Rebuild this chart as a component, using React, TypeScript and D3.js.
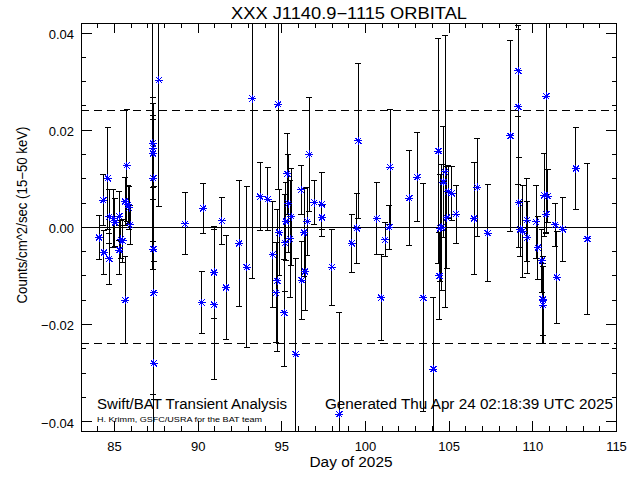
import React from 'react';
import * as d3 from 'd3';

const days = [
  84.08, 84.33, 84.37, 84.61, 84.69, 84.70, 84.93, 85.03, 85.29, 85.30, 85.37, 85.49, 85.63, 85.73, 85.64, 85.83, 85.87, 85.93,
  87.29, 87.30, 87.31, 87.32, 87.33, 87.34, 87.35, 87.66,
  89.22, 90.21, 90.31, 90.95, 90.96, 91.41, 91.67, 92.46, 92.90, 93.24, 93.70, 94.16, 94.46,
  94.66, 94.73, 94.79, 94.85, 95.15, 95.19, 95.25, 95.33, 95.39, 95.49, 95.57, 95.83,
  96.15, 96.19, 96.33, 96.39, 96.53, 96.65, 96.95, 97.39, 97.40, 97.99, 98.44,
  99.18, 99.48, 99.58, 100.67, 100.93, 101.17, 101.43, 101.47, 102.62, 103.10, 103.46, 104.06,
  104.36, 104.42, 104.46, 104.56, 104.66, 104.76, 104.86, 104.95, 105.16, 105.41,
  106.49, 106.69, 107.31, 108.66, 109.13, 109.14, 109.15, 109.24, 109.40, 109.64, 109.68,
  110.20, 110.30, 110.54, 110.59, 110.60, 110.61, 110.68, 110.80, 110.81, 110.88,
  111.34, 111.44, 111.79, 112.57, 113.26
];

const rates = [
  -0.0021, 0.0056, -0.0052, 0.0101, -0.0065, 0.0022, 0.0018, 0.0010, 0.0023, -0.0047, -0.0025, -0.0028, 0.0053, 0.0127, -0.0150, 0.0047, 0.0040, 0.0005,
  0.0173, 0.0163, 0.0152, 0.0101, -0.0045, -0.0135, -0.0280, 0.0303,
  0.0007, -0.0155, 0.0039, -0.0093, -0.0159, 0.0013, -0.0124, -0.0033, -0.0082, 0.0265, 0.0063, 0.0058, -0.0056,
  -0.0135, -0.0110, 0.0253, -0.0011, -0.0176, -0.0032, 0.0012, 0.0110, 0.0049, -0.0024, 0.0022, -0.0261,
  0.0077, -0.0109, -0.0011, -0.0091, 0.0012, 0.0150, 0.0051, 0.0047, 0.0020, -0.0082, -0.0385,
  -0.0033, -0.0002, 0.0178, 0.0018, -0.0145, -0.0026, 0.0000, 0.0124, 0.0060, 0.0103, -0.0145, -0.0292,
  0.0157, -0.0100, -0.0002, 0.0000, 0.0093, 0.0114, 0.0020, 0.0073, 0.0070, 0.0027,
  0.0018, 0.0082, -0.0012, 0.0188, 0.0322, 0.0248, 0.0051, -0.0004, -0.0008, 0.0015, -0.0021,
  0.0011, -0.0042, -0.0069, -0.0148, -0.0150, -0.0160, 0.0066, 0.0270, 0.0027, 0.0064,
  0.0005, -0.0103, -0.0004, 0.0121, -0.0024
];

const errors = [
  0.0045, 0.0053, 0.0046, 0.0105, 0.0052, 0.0055, 0.0060, 0.0050, 0.0050, 0.0050, 0.0040, 0.0045, 0.0050, 0.0115, 0.0090, 0.0040, 0.0045, 0.0040,
  0.0260, 0.0105, 0.0070, 0.0130, 0.0300, 0.0220, 0.0210, 0.0260,
  0.0064, 0.0064, 0.0052, 0.0094, 0.0155, 0.0048, 0.0108, 0.0130, 0.0165, 0.0370, 0.0070, 0.0065, 0.0110,
  0.0103, 0.0146, 0.0176, 0.0089, 0.0110, 0.0100, 0.0080, 0.0083, 0.0100, 0.0120, 0.0100, 0.0197,
  0.0051, 0.0080, 0.0090, 0.0080, 0.0070, 0.0117, 0.0045, 0.0065, 0.0025, 0.0078, 0.0210,
  0.0060, 0.0072, 0.0160, 0.0074, 0.0088, 0.0035, 0.0045, 0.0118, 0.0098, 0.0092, 0.0235, 0.0148,
  0.0232, 0.0090, 0.0110, 0.0130, 0.0115, 0.0280, 0.0105, 0.0055, 0.0055, 0.0060,
  0.0115, 0.0100, 0.0100, 0.0197, 0.0094, 0.0159, 0.0092, 0.0057, 0.0095, 0.0085, 0.0075,
  0.0075, 0.0065, 0.0065, 0.0074, 0.0089, 0.0079, 0.0085, 0.0280, 0.0040, 0.0055,
  0.0045, 0.0095, 0.0066, 0.0085, 0.0156
];

const xTicks = [85, 90, 95, 100, 105, 110, 115];
const xTickLabels = ['85', '90', '95', '100', '105', '110', '115'];
const yTicks = [-0.04, -0.02, 0, 0.02, 0.04];
const yTickLabels = ['\u22120.04', '\u22120.02', '0.00', '0.02', '0.04'];
const thresholds = [0.024, -0.024];

const titleText = 'XXX J1140.9\u22121115 ORBITAL';
const xLabel = 'Day of 2025';
const yLabel = 'Counts/cm^2/sec (15\u221250 keV)';
const note1 = 'Swift/BAT Transient Analysis';
const note2 = 'Generated Thu Apr 24 02:18:39 UTC 2025';
const note3 = 'H. Krimm, GSFC/USRA for the BAT team';

export default function App() {
  const W = 640, H = 480;
  const L = 81, R = 616.5, T = 23.3, B = 431.3;
  const x = d3.scaleLinear().domain([83, 115]).range([L, R]);
  const y = d3.scaleLinear().domain([-0.042, 0.042]).range([B, T]);
  const font = 'Liberation Sans, Arial, sans-serif';

  const xMinor = d3.range(83, 115.001, 1);
  const yMinor = d3.range(-0.04, 0.0401, 0.005);

  const blue = '#0000ff';
  const cap = 3;
  const s = 4, d = 3;

  return (
    <svg width={W} height={H} style={{ position: 'absolute', left: 0, top: 0, background: '#fff' }}>
      <rect x={0} y={0} width={W} height={H} fill="#fff" />
      <defs>
        <clipPath id="plotclip">
          <rect x={L} y={T} width={R - L} height={B - T} />
        </clipPath>
      </defs>

      {/* zero line and thresholds */}
      <g shapeRendering="crispEdges">
        <line x1={L} x2={R} y1={y(0)} y2={y(0)} stroke="#000" strokeWidth={1} />
        {thresholds.map((t, i) => (
          <line key={i} x1={L} x2={R} y1={y(t)} y2={y(t)} stroke="#000" strokeWidth={1} strokeDasharray="8,5" />
        ))}
      </g>

      {/* error bars */}
      <g clipPath="url(#plotclip)" shapeRendering="crispEdges" stroke="#000" strokeWidth={1}>
        {days.map((dv, i) => {
          const cx = x(dv);
          const y1 = y(rates[i] + errors[i]);
          const y2 = y(rates[i] - errors[i]);
          return (
            <g key={i}>
              <line x1={cx} x2={cx} y1={y1} y2={y2} />
              <line x1={cx - cap} x2={cx + cap} y1={y1} y2={y1} />
              <line x1={cx - cap} x2={cx + cap} y1={y2} y2={y2} />
            </g>
          );
        })}
      </g>

      {/* points */}
      <g clipPath="url(#plotclip)" stroke={blue} strokeWidth={1} shapeRendering="crispEdges">
        {days.map((dv, i) => {
          const cx = x(dv);
          const cy = y(rates[i]);
          return (
            <g key={i}>
              <line x1={cx - s} x2={cx + s} y1={cy} y2={cy} />
              <line x1={cx} x2={cx} y1={cy - s} y2={cy + s} />
              <line x1={cx - d} x2={cx + d} y1={cy - d} y2={cy + d} />
              <line x1={cx - d} x2={cx + d} y1={cy + d} y2={cy - d} />
            </g>
          );
        })}
      </g>

      {/* axes box */}
      <rect x={L} y={T} width={R - L} height={B - T} fill="none" stroke="#000" strokeWidth={1} shapeRendering="crispEdges" />

      {/* ticks */}
      <g stroke="#000" strokeWidth={1} shapeRendering="crispEdges">
        {xMinor.map((v, i) => {
          const major = xTicks.includes(Math.round(v)) && Math.abs(v - Math.round(v)) < 1e-6;
          const len = major ? 10 : 5;
          return (
            <g key={'xm' + i}>
              <line x1={x(v)} x2={x(v)} y1={B} y2={B - len} />
              <line x1={x(v)} x2={x(v)} y1={T} y2={T + len} />
            </g>
          );
        })}
        {yMinor.map((v, i) => {
          const major = yTicks.some(t => Math.abs(t - v) < 1e-6);
          const len = major ? 11 : 5;
          return (
            <g key={'ym' + i}>
              <line x1={L} x2={L + len} y1={y(v)} y2={y(v)} />
              <line x1={R} x2={R - len} y1={y(v)} y2={y(v)} />
            </g>
          );
        })}
      </g>

      {/* tick labels */}
      <g fontFamily={font} fontSize={13} fill="#000">
        {xTicks.map((v, i) => (
          <text key={'xl' + i} x={x(v)} y={451} textAnchor="middle">{xTickLabels[i]}</text>
        ))}
        {yTicks.map((v, i) => (
          <text key={'yl' + i} x={74} y={y(v) + 6} textAnchor="end">{yTickLabels[i]}</text>
        ))}
      </g>

      {/* titles */}
      <text x={349} y={19} textAnchor="middle" fontFamily={font} fontSize={16} textLength={236} lengthAdjust="spacingAndGlyphs">{titleText}</text>
      <text x={351} y={467} textAnchor="middle" fontFamily={font} fontSize={14} textLength={83} lengthAdjust="spacingAndGlyphs">{xLabel}</text>
      <text transform={`translate(27,${215}) rotate(-90)`} textAnchor="middle" fontFamily={font} fontSize={14} textLength={177} lengthAdjust="spacingAndGlyphs">{yLabel}</text>

      <text x={97} y={409} fontFamily={font} fontSize={14} textLength={190} lengthAdjust="spacingAndGlyphs">{note1}</text>
      <text x={325} y={409} fontFamily={font} fontSize={14} textLength={288} lengthAdjust="spacingAndGlyphs">{note2}</text>
      <text x={97} y={422} fontFamily={font} fontSize={7.5} textLength={165} lengthAdjust="spacingAndGlyphs">{note3}</text>
    </svg>
  );
}
